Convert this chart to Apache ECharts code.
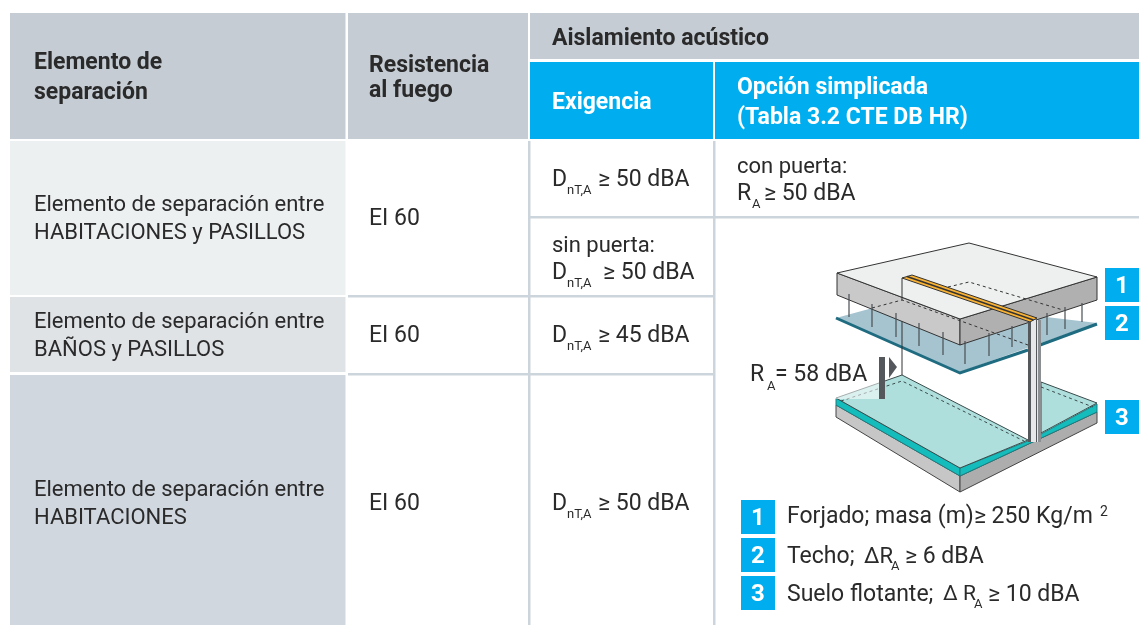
<!DOCTYPE html>
<html>
<head>
<meta charset="utf-8">
<style>html,body{margin:0;padding:0;background:#fff}#main{width:1139px;height:625px}</style>
<script src="https://cdn.jsdelivr.net/npm/echarts@6/dist/echarts.min.js"></script>
</head>
<body>
<div id="main"></div>
<script>
// textos de la tabla
var headers = ['Elemento de', 'separación', 'Resistencia', 'al fuego', 'Aislamiento acústico', 'Exigencia', 'Opción simplicada', '(Tabla 3.2 CTE DB HR)'];
var elementos = ['Elemento de separación entre', 'HABITACIONES y PASILLOS', 'Elemento de separación entre', 'BAÑOS y PASILLOS', 'Elemento de separación entre', 'HABITACIONES'];
var resistencia = ['EI 60', 'EI 60', 'EI 60'];
var exigencia = ['≥ 50 dBA', '≥ 50 dBA', '≥ 45 dBA', '≥ 50 dBA'];
var opcion = ['con puerta:', '≥ 50 dBA', 'sin puerta:'];
var leyenda = ['Forjado; masa (m)≥ 250 Kg/m', 'Techo;', 'Suelo flotante;'];
var leyendaValor = ['≥ 6 dBA', '≥ 10 dBA'];
var numeros = ['1', '2', '3'];
var medida = '= 58 dBA';

var FONT = 'Roboto', INK = '#2a2a2b', BLUE = '#00aeef', GREY = '#c5ccd3', LINE = '#cdd5dc';
var els = [];

function rect(x, y, w, h, fill) {
    els.push({type: 'rect', shape: {x: x, y: y, width: w, height: h}, style: {fill: fill}, silent: true});
}
function txt(s, x, y, size, opt) {
    opt = opt || {};
    els.push({type: 'text', x: x, y: y, silent: true, style: {
        text: s, fill: opt.fill || INK, font: (opt.bold ? 'bold ' : '') + size + 'px ' + FONT,
        textAlign: opt.align || 'left', textVerticalAlign: 'middle'
    }});
}
function poly(pts, fill, stroke, lw) {
    els.push({type: 'polygon', shape: {points: pts}, silent: true,
        style: {fill: fill, stroke: stroke || null, lineWidth: lw || 1, lineJoin: 'round'}});
}
function line(pts, color, lw, dash) {
    els.push({type: 'polyline', shape: {points: pts}, silent: true,
        style: {fill: null, stroke: color, lineWidth: lw || 1, lineDash: dash || null}});
}
function sub(s, x, y) { txt(s, x, y, 13); }

// cabecera
rect(10, 13, 335.5, 126, GREY);
rect(348, 13, 180, 126, GREY);
rect(530, 13, 609, 46, GREY);
rect(530, 62, 183, 77, BLUE);
rect(715, 62, 424, 77, BLUE);
// filas
rect(10, 141, 335.5, 154, '#edf0f1');
rect(10, 297, 335.5, 75, '#dfe3e6');
rect(10, 375, 335.5, 250, '#d0d7de');
rect(528, 141, 2.5, 484, LINE);
rect(713, 141, 2.5, 484, LINE);
rect(530, 216, 609, 2.5, LINE);
rect(348, 295, 366, 2.5, LINE);
rect(348, 373, 366, 2.5, LINE);

txt(headers[0], 34, 63, 23, {bold: true});
txt(headers[1], 34, 93, 23, {bold: true});
txt(headers[2], 369, 66, 23, {bold: true});
txt(headers[3], 369, 91, 23, {bold: true});
txt(headers[4], 552, 39, 23, {bold: true});
txt(headers[5], 552, 103, 23, {bold: true, fill: '#fff'});
txt(headers[6], 737, 88, 23, {bold: true, fill: '#fff'});
txt(headers[7], 737, 118, 23, {bold: true, fill: '#fff'});

var filasY = [205, 233, 322, 350, 490, 518];
elementos.forEach(function (s, i) { txt(s, 34, filasY[i], 22); });
var resY = [219, 336, 504];
resistencia.forEach(function (s, i) { txt(s, 369, resY[i], 23); });

// exigencia
var exY = [180, 273, 336, 504], exX = [598, 603, 598, 598];
exigencia.forEach(function (s, i) {
    txt('D', 552, exY[i], 23);
    sub('nT,A', 567, exY[i] + 11);
    txt(s, exX[i], exY[i], 23);
});
txt(opcion[2], 552, 246, 22);
txt(opcion[0], 737, 167, 22);
txt('R', 737, 194, 23);
sub('A', 752, 205);
txt(opcion[1], 764, 194, 23);

// dibujo: suelo
poly([[836, 405], [960, 476], [960, 492], [836, 417]], '#c6c6c6', '#444');
poly([[960, 476], [1097, 412], [1097, 423], [960, 492]], '#adadad', '#444');
poly([[836, 398], [960, 468], [960, 476], [836, 405]], '#14bcbc', '#1d7d80');
poly([[960, 468], [1028, 441], [1097, 404], [1097, 412], [960, 476]], '#14bcbc', '#1d7d80');
poly([[836, 398], [902, 375], [1028, 440], [960, 468]], '#aedfdd', '#3a4a4a');
poly([[1041, 382], [1097, 403], [1041, 433]], '#aedfdd', '#3a4a4a');
line([[841, 401], [902, 381], [1024, 441]], '#3a4a4a', 1, [3, 3]);
line([[1041, 387], [1093, 407]], '#3a4a4a', 1, [3, 3]);
rect(820, 375, 65, 24, 'rgba(255,255,255,0.55)');

// dibujo: techo
poly([[836, 318], [902, 300], [1097, 323], [960, 372]], '#a5c4d0');
line([[836, 318], [960, 373], [1028, 350]], '#1f6b80', 3);
line([[1040, 345], [1097, 324]], '#1f6b80', 3);
line([[902, 278], [902, 375]], '#333', 1);

// dibujo: forjado
poly([[837, 273], [960, 319], [960, 345], [837, 295]], '#c9c9c9', '#333');
poly([[960, 319], [1097, 277], [1097, 300], [960, 345]], '#b0b0b0', '#333');
poly([[837, 273], [969, 243], [1097, 277], [960, 319]], '#eef0f0', '#333');
line([[872, 308], [902, 300], [1028, 345]], '#333', 1, [3, 3]);
line([[948, 287], [969, 282], [1063, 310]], '#333', 1, [3, 3]);
line([[902, 278], [902, 300]], '#333', 1);
// varillas
var varillas = [[849, 294, 317], [872, 304, 327], [896, 313, 337], [919, 323, 346], [943, 332, 355], [965, 341, 364], [989, 333, 356], [1012, 326, 347], [1047, 313, 335], [1065, 307, 329], [1082, 303, 322]];
varillas.forEach(function (v) { line([[v[0], v[1]], [v[0], v[2]]], '#4a4f53', 1.2); });

// dibujo: tabique
rect(1028, 320, 13, 122, '#e6e7e8');
rect(1028, 320, 3, 122, '#55585b');
rect(1036, 320, 1, 122, '#55585b');
rect(1038, 320, 3, 122, '#8c8f92');
poly([[902, 278], [912, 275], [1037, 318], [1030, 322]], '#f9b233', '#333');
line([[907, 276.5], [1033.5, 320]], '#333', 1.5);

// flecha
rect(879, 357, 6, 42, '#54585c');
poly([[889, 357], [897, 367], [889, 378]], '#54585c');
txt('R', 750, 375, 23);
sub('A', 767, 387);
txt(medida, 775, 375, 23);

// numeros
var cajasD = [[1105, 268], [1105, 306], [1105, 400]];
var cajasL = [[741, 500], [741, 538], [741, 576]];
numeros.forEach(function (n, i) {
    rect(cajasD[i][0], cajasD[i][1], 34, 34, BLUE);
    txt(n, cajasD[i][0] + 17, cajasD[i][1] + 19, 24, {bold: true, fill: '#fff', align: 'center'});
    rect(cajasL[i][0], cajasL[i][1], 34, 34, BLUE);
    txt(n, cajasL[i][0] + 17, cajasL[i][1] + 19, 24, {bold: true, fill: '#fff', align: 'center'});
});

// leyenda
txt(leyenda[0], 787, 517, 23);
txt('2', 1100, 512, 14);
txt(leyenda[1], 787, 557, 23);
txt('ΔR', 864, 557, 22);
sub('A', 891, 567);
txt(leyendaValor[0], 905, 557, 23);
txt(leyenda[2], 787, 595, 23);
txt('Δ R', 943, 595, 21);
sub('A', 974, 605);
txt(leyendaValor[1], 988, 595, 23);

var chart = echarts.init(document.getElementById('main'), null, {renderer: 'canvas'});
chart.setOption({animation: false, graphic: {elements: els}});
</script>
</body>
</html>
